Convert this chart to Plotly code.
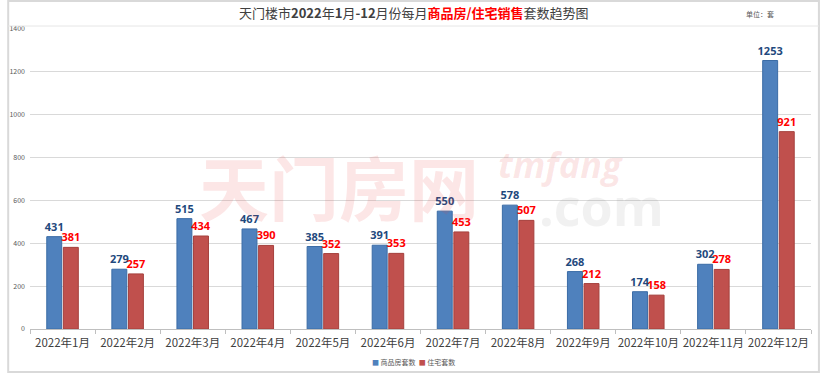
import plotly.graph_objects as go

months = ["2022年1月", "2022年2月", "2022年3月", "2022年4月", "2022年5月", "2022年6月",
          "2022年7月", "2022年8月", "2022年9月", "2022年10月", "2022年11月", "2022年12月"]
commercial = [431, 279, 515, 467, 385, 391, 550, 578, 268, 174, 302, 1253]
residential = [381, 257, 434, 390, 352, 353, 453, 507, 212, 158, 278, 921]
y_ticks = [0, 200, 400, 600, 800, 1000, 1200, 1400]
series_names = ["商品房套数", "住宅套数"]
series_colors = ["#4F81BD", "#C0504D"]

fig = go.Figure()
fig.add_trace(go.Bar(
    x=months, y=commercial, name=series_names[0], marker_color=series_colors[0],
    marker_line=dict(color="#3B6CA6", width=1),
    text=commercial, textposition="outside", cliponaxis=False, constraintext="none",
    textfont=dict(color="#1F497D", size=11, family="Open Sans", weight="bold"),
))
fig.add_trace(go.Bar(
    x=months, y=residential, name=series_names[1], marker_color=series_colors[1],
    marker_line=dict(color="#A5403D", width=1),
    text=residential, textposition="outside", cliponaxis=False, constraintext="none",
    textfont=dict(color="#FF0000", size=11, family="Open Sans", weight="bold"),
))

W, H = 820, 373
ml, mr, mt, mb = 23, 9, 29, 44
pw, ph = W - ml - mr, H - mt - mb

def px(x):
    return (x - ml) / pw

def py(y):
    return (H - mb - y) / ph

fig.update_layout(
    width=W, height=H,
    margin=dict(l=ml, r=mr, t=mt, b=mb),
    paper_bgcolor="white", plot_bgcolor="white",
    barmode="group", bargap=0.49, bargroupgap=0.1,
    showlegend=False,
    font=dict(family="Noto Sans CJK SC"),
    xaxis=dict(tickfont=dict(size=11.5, color="#404040"), showline=True, linecolor="#BFBFBF",
               ticks="outside", ticklen=4, tickcolor="#BFBFBF", tickson="boundaries",
               showgrid=False, tickangle=0, ticklabelstandoff=3),
    yaxis=dict(range=[0, 1400], tickvals=y_ticks, tickfont=dict(size=7, color="#595959"),
               showgrid=True, gridcolor="#D9D9D9", gridwidth=1, zeroline=False,
               ticks="", ticklabelstandoff=4),
    uniformtext=dict(mode=False),
)

annotations = [
    dict(text="天门楼市<b>2022</b>年<b>1</b>月<b>-12</b>月份每月<span style='color:#FF0000'><b>商品房/住宅销售</b></span>套数趋势图",
         x=px(410), y=py(12), xref="paper", yref="paper", showarrow=False,
         font=dict(size=13, color="#404040", family="Noto Sans CJK SC"), xanchor="center", yanchor="middle"),
    dict(text="单位：套", x=px(760), y=py(14), xref="paper", yref="paper", showarrow=False,
         font=dict(size=7, color="#595959"), xanchor="center", yanchor="middle"),
    dict(text="<b>天门房网</b>", x=px(335), y=py(185), xref="paper", yref="paper", showarrow=False,
         font=dict(size=70, color="rgba(230,60,60,0.13)", family="Noto Sans CJK SC"),
         xanchor="center", yanchor="middle"),
    dict(text="<i><b>tmfang</b></i>", x=px(558), y=py(164), xref="paper", yref="paper", showarrow=False,
         font=dict(size=36, color="rgba(230,60,60,0.13)", family="Open Sans"),
         xanchor="center", yanchor="middle"),
    dict(text="<b>.com</b>", x=px(600), y=py(205), xref="paper", yref="paper", showarrow=False,
         font=dict(size=52, color="rgba(120,120,120,0.10)", family="Open Sans"),
         xanchor="center", yanchor="middle"),
    dict(text=f"<span style='color:{series_colors[0]}'>■</span> {series_names[0]}  "
              f"<span style='color:{series_colors[1]}'>■</span> {series_names[1]}",
         x=px(410), y=py(362), xref="paper", yref="paper", showarrow=False,
         font=dict(size=7, color="#595959"), xanchor="center", yanchor="middle"),
]
fig.update_layout(annotations=annotations)

fig.add_shape(type="rect", xref="paper", yref="paper",
              x0=px(1), x1=px(W - 1), y0=py(H - 1), y1=py(1),
              line=dict(color="#D9D9D9", width=2), fillcolor="rgba(0,0,0,0)", layer="above")
fig.add_shape(type="line", xref="paper", yref="paper",
              x0=px(1), x1=px(W - 1), y0=py(26), y1=py(26),
              line=dict(color="#E6E6E6", width=1))

fig.write_html("out.html")
